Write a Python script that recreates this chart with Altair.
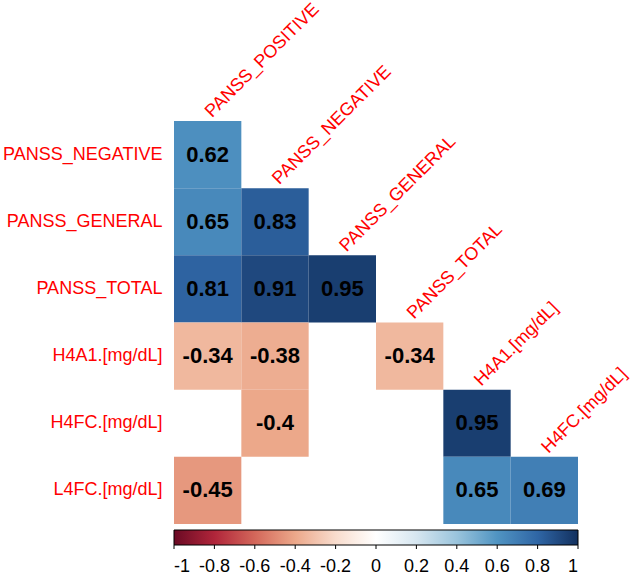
import altair as alt
import pandas as pd

# Variables of the lower-triangle correlation matrix
row_names = ["PANSS_NEGATIVE", "PANSS_GENERAL", "PANSS_TOTAL",
             "H4A1.[mg/dL]", "H4FC.[mg/dL]", "L4FC.[mg/dL]"]
col_names = ["PANSS_POSITIVE", "PANSS_NEGATIVE", "PANSS_GENERAL",
             "PANSS_TOTAL", "H4A1.[mg/dL]", "H4FC.[mg/dL]"]

# Significant correlations only (non-significant cells are left blank)
cell_row = ["PANSS_NEGATIVE", "PANSS_GENERAL", "PANSS_GENERAL",
            "PANSS_TOTAL", "PANSS_TOTAL", "PANSS_TOTAL",
            "H4A1.[mg/dL]", "H4A1.[mg/dL]", "H4A1.[mg/dL]",
            "H4FC.[mg/dL]", "H4FC.[mg/dL]",
            "L4FC.[mg/dL]", "L4FC.[mg/dL]", "L4FC.[mg/dL]"]
cell_col = ["PANSS_POSITIVE", "PANSS_POSITIVE", "PANSS_NEGATIVE",
            "PANSS_POSITIVE", "PANSS_NEGATIVE", "PANSS_GENERAL",
            "PANSS_POSITIVE", "PANSS_NEGATIVE", "PANSS_TOTAL",
            "PANSS_NEGATIVE", "H4A1.[mg/dL]",
            "PANSS_POSITIVE", "H4A1.[mg/dL]", "H4FC.[mg/dL]"]
cell_r = [0.62, 0.65, 0.83, 0.81, 0.91, 0.95,
          -0.34, -0.38, -0.34, -0.4, 0.95, -0.45, 0.65, 0.69]

# Colour bar ticks and a soft red-blue diverging palette
bar_ticks = [-1, -0.8, -0.6, -0.4, -0.2, 0, 0.2, 0.4, 0.6, 0.8, 1]
palette = ["#6A0A24", "#B0253A", "#D3675A", "#ECA88A", "#F8DCCD", "#FFFFFF",
           "#D6E6F0", "#9AC4DC", "#5094C2", "#2F66A5", "#12305E"]

cells = pd.DataFrame({"row": cell_row, "col": cell_col, "r": cell_r})
cells["label"] = cells["r"].map(lambda v: f"{v:g}")

# Column names are written diagonally on top of the diagonal cells
col_labels = pd.DataFrame({"col": col_names, "row": row_names})
ticks = pd.DataFrame({"v": bar_ticks})

FONT = "Liberation Sans"
W, H = 404, 403

xs = alt.Scale(domain=col_names, paddingInner=0, paddingOuter=0)
ys = alt.Scale(domain=row_names, paddingInner=0, paddingOuter=0)

rects = alt.Chart(cells).mark_rect().encode(
    x=alt.X("col:N", scale=xs, axis=None),
    y=alt.Y("row:N", scale=ys,
            axis=alt.Axis(title=None, domain=False, ticks=False,
                          labelColor="#FF0000", labelFontSize=18,
                          labelFont=FONT, labelPadding=12)),
    color=alt.Color(
        "r:Q",
        scale=alt.Scale(domain=bar_ticks, range=palette, interpolate="rgb"),
        legend=alt.Legend(
            title=None, orient="none", direction="horizontal",
            legendX=0, legendY=H + 6, padding=0,
            gradientLength=W, gradientThickness=15,
            gradientStrokeColor="black", gradientStrokeWidth=1,
            values=bar_ticks, labelOverlap=False,
            labelAlign="center", labelFontSize=18, labelFont=FONT,
            labelColor="black", labelOffset=13,
            labelExpr="datum.value == 0 ? '0' : (datum.value < 0 ? '-' : '') + format(abs(datum.value), '~g')",
        ),
    ),
)

numbers = alt.Chart(cells).mark_text(
    font=FONT, fontSize=22, fontWeight="bold", color="black"
).encode(
    x=alt.X("col:N", scale=xs, axis=None),
    y=alt.Y("row:N", scale=ys),
    text="label:N",
)

diag_labels = alt.Chart(col_labels).mark_text(
    font=FONT, fontSize=18, color="#FF0000", angle=315,
    align="left", baseline="alphabetic", dx=5, dy=1
).encode(
    x=alt.X("col:N", scale=xs, axis=None),
    y=alt.Y("row:N", scale=ys, bandPosition=0),
    text="col:N",
)

heat = alt.layer(rects, numbers, diag_labels)

# Small tick marks under the colour bar
tick_marks = alt.Chart(ticks).mark_rule(color="black", strokeWidth=1).encode(
    x=alt.X("v:Q", scale=alt.Scale(domain=[-1, 1]), axis=None),
    y=alt.value(H + 21),
    y2=alt.value(H + 25),
)

chart = alt.layer(heat, tick_marks).resolve_scale(
    x="independent"
).properties(
    width=W, height=H,
    background="white",
    padding={"left": 2, "top": 0, "right": 2, "bottom": 0},
).configure_view(strokeWidth=0, stroke="transparent")

chart.save("out.html", embed_options={"renderer": "svg", "actions": False})
